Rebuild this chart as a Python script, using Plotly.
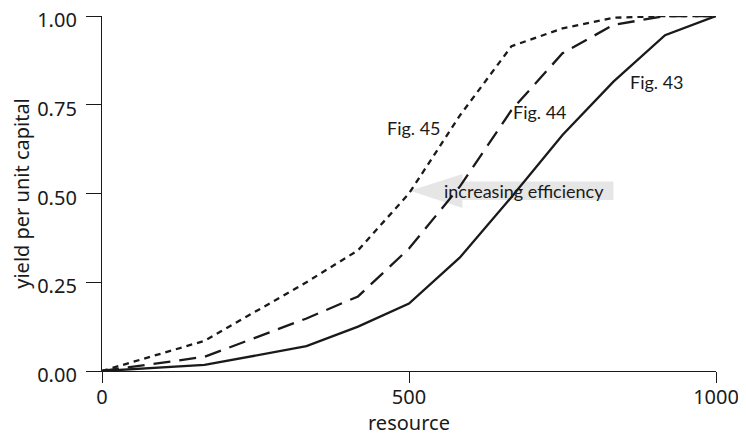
import plotly.graph_objects as go

# resource levels (x) shared by all three curves
resource = [0, 167, 333, 417, 500, 583, 667, 750, 833, 917, 1000]

# yield per unit capital
fig43 = [0.0, 0.017, 0.07, 0.125, 0.19, 0.32, 0.49, 0.665, 0.815, 0.946, 1.0]
fig44 = [0.0, 0.04, 0.148, 0.21, 0.345, 0.52, 0.735, 0.895, 0.975, 1.0, 1.0]
fig45 = [0.0, 0.085, 0.25, 0.34, 0.5, 0.72, 0.915, 0.965, 0.995, 1.0, 1.0]

labels = ["Fig. 43", "Fig. 44", "Fig. 45"]
label_x = [904, 713, 508]
label_y = [0.814, 0.73, 0.685]

INK = "#1a1a1a"
TICK_FONT = dict(family="Noto Sans, Open Sans, sans-serif", size=20, color=INK)
NOTE_FONT = dict(family="Lato, sans-serif", size=18, color=INK)

fig = go.Figure()
fig.add_trace(go.Scatter(x=resource, y=fig43, mode="lines", name="Fig. 43",
                         line=dict(color=INK, width=2.3)))
fig.add_trace(go.Scatter(x=resource, y=fig44, mode="lines", name="Fig. 44",
                         line=dict(color=INK, width=2.3, dash="17px,9px")))
fig.add_trace(go.Scatter(x=resource, y=fig45, mode="lines", name="Fig. 45",
                         line=dict(color=INK, width=2.3, dash="6px,5px")))

# grey arrow pointing left, toward the more efficient curves
fig.add_shape(
    type="path",
    path="M 502 0.508 L 587 0.555 L 587 0.534 L 833 0.534 L 833 0.482 L 587 0.482 L 587 0.459 Z",
    xref="x", yref="y", fillcolor="#e6e6e6", line=dict(width=0), layer="below",
)
fig.add_annotation(x=688, y=0.508, text="increasing efficiency", showarrow=False,
                   font=NOTE_FONT)

for txt, lx, ly in zip(labels, label_x, label_y):
    fig.add_annotation(x=lx, y=ly, text=txt, showarrow=False, font=NOTE_FONT)

# x-axis title as an annotation so it can sit right at the bottom edge
fig.add_annotation(x=0.5, y=0, xref="paper", yref="paper", yanchor="middle",
                   yshift=-51, text="resource", showarrow=False, font=TICK_FONT)

fig.update_xaxes(
    range=[0, 1000], tickvals=[0, 500, 1000], ticks="outside", ticklen=11,
    tickcolor=INK, showline=True, linecolor=INK, linewidth=1.3, showgrid=False,
    zeroline=False, tickfont=TICK_FONT, automargin=False, ticklabelstandoff=-3,
    ticklabeloverflow="allow",
)
fig.update_yaxes(
    range=[0, 1], tickvals=[0, 0.25, 0.5, 0.75, 1.0], tickformat=".2f",
    ticks="outside", ticklen=15, tickcolor=INK, showline=True, linecolor=INK,
    linewidth=1.3, showgrid=False, zeroline=False, tickfont=TICK_FONT,
    ticklabelstandoff=5, ticklabelshift=4, automargin=False,
    ticklabeloverflow="allow",
    title=dict(text="yield per unit capital", font=TICK_FONT, standoff=14),
)

# the page adds an 8px body margin, so the figure is 8px smaller than the window
fig.update_layout(
    width=738, height=425,
    margin=dict(l=94, r=30, t=8, b=62),
    plot_bgcolor="white", paper_bgcolor="white",
    showlegend=False,
)

fig.write_html("out.html")
